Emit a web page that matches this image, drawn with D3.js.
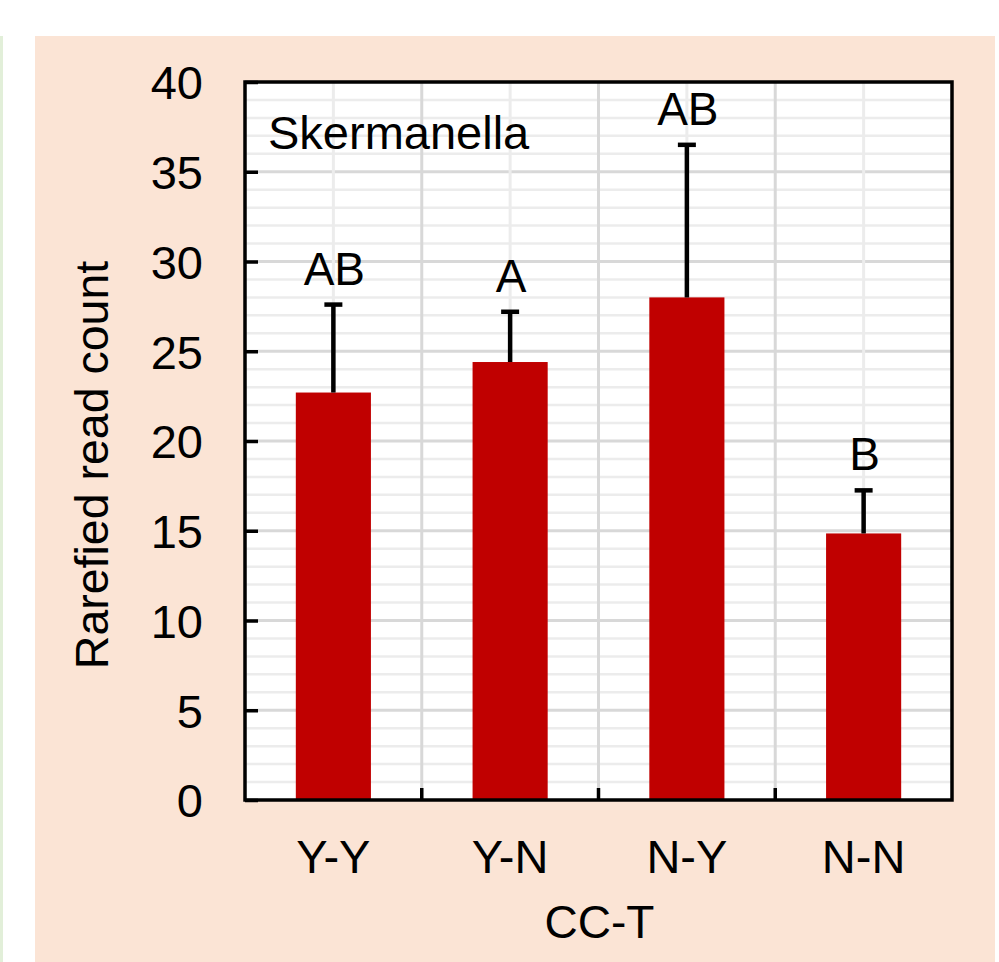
<!DOCTYPE html>
<html>
<head>
<meta charset="utf-8">
<script src="https://cdn.jsdelivr.net/npm/d3@7"></script>
<style>
  html, body { margin: 0; padding: 0; background: #ffffff; }
  svg { display: block; }
  text { font-family: "Liberation Sans", Arial, sans-serif; fill: #000; }
</style>
</head>
<body>
<svg id="chart" width="999" height="962"></svg>
<script>
// Skermanella rarefied read counts by CC-T treatment
const categories = ["Y-Y", "Y-N", "N-Y", "N-N"];
const means      = [22.7, 24.4, 28.0, 14.85];
const errorTops  = [27.6, 27.2, 36.5, 17.25];
const groupLetters = ["AB", "A", "AB", "B"];
const yTicks = [0, 5, 10, 15, 20, 25, 30, 35, 40];

const svg = d3.select("#chart");

// side strip and peach panel
svg.append("rect").attr("x", 0).attr("y", 36).attr("width", 3).attr("height", 926).attr("fill", "#e2efd9");
svg.append("rect").attr("x", 35).attr("y", 36).attr("width", 960).attr("height", 926).attr("fill", "#fbe4d5");

const plot = { left: 245, right: 952, top: 82, bottom: 800 };

const x = d3.scaleBand().domain(categories).range([plot.left, plot.right]).paddingInner(0).paddingOuter(0);
const y = d3.scaleLinear().domain([0, 40]).range([plot.bottom, plot.top]);
const barW = x.bandwidth() * 0.425;

// plot background
svg.append("rect")
  .attr("x", plot.left).attr("y", plot.top)
  .attr("width", plot.right - plot.left).attr("height", plot.bottom - plot.top)
  .attr("fill", "#ffffff");

const grid = svg.append("g");
// minor horizontal grid
grid.selectAll("line.minor-h")
  .data(d3.range(1, 40).filter(v => v % 5 !== 0))
  .join("line")
  .attr("x1", plot.left).attr("x2", plot.right)
  .attr("y1", d => y(d)).attr("y2", d => y(d))
  .attr("stroke", "#ececec").attr("stroke-width", 2.5);
// major horizontal grid
grid.selectAll("line.major-h")
  .data(yTicks.slice(1, -1))
  .join("line")
  .attr("x1", plot.left).attr("x2", plot.right)
  .attr("y1", d => y(d)).attr("y2", d => y(d))
  .attr("stroke", "#d8d8d8").attr("stroke-width", 3);
// minor vertical grid at category centres
grid.selectAll("line.minor-v")
  .data(categories)
  .join("line")
  .attr("x1", d => x(d) + x.bandwidth() / 2).attr("x2", d => x(d) + x.bandwidth() / 2)
  .attr("y1", plot.top).attr("y2", plot.bottom)
  .attr("stroke", "#ececec").attr("stroke-width", 3);
// major vertical grid at category boundaries
grid.selectAll("line.major-v")
  .data(categories.slice(1))
  .join("line")
  .attr("x1", d => x(d)).attr("x2", d => x(d))
  .attr("y1", plot.top).attr("y2", plot.bottom)
  .attr("stroke", "#d8d8d8").attr("stroke-width", 3);

// bars
svg.append("g").selectAll("rect")
  .data(categories)
  .join("rect")
  .attr("x", d => x(d) + (x.bandwidth() - barW) / 2)
  .attr("width", barW)
  .attr("y", (d, i) => y(means[i]))
  .attr("height", (d, i) => y(0) - y(means[i]))
  .attr("fill", "#c00000");

// upward error bars
const err = svg.append("g").attr("stroke", "#000");
categories.forEach((c, i) => {
  const cx = x(c) + x.bandwidth() / 2;
  err.append("line")
    .attr("x1", cx).attr("x2", cx)
    .attr("y1", y(means[i])).attr("y2", y(errorTops[i]))
    .attr("stroke-width", 4.5);
  err.append("line")
    .attr("x1", cx - 9).attr("x2", cx + 9)
    .attr("y1", y(errorTops[i])).attr("y2", y(errorTops[i]))
    .attr("stroke-width", 4.5);
});

// significance letters
svg.append("g").selectAll("text")
  .data(categories)
  .join("text")
  .attr("x", d => x(d) + x.bandwidth() / 2 + 1)
  .attr("y", (d, i) => y(errorTops[i]) - 20)
  .attr("text-anchor", "middle")
  .attr("font-size", 46)
  .text((d, i) => groupLetters[i]);

// axes (ticks point inward)
const yAxis = d3.axisLeft(y).tickValues(yTicks).tickSize(-13).tickPadding(0).tickFormat(d3.format("d"));
const yg = svg.append("g").attr("transform", `translate(${plot.left},0)`).call(yAxis);
yg.select(".domain").remove();
yg.selectAll(".tick line").attr("stroke", "#000").attr("stroke-width", 3.5);
yg.selectAll(".tick text")
  .attr("x", -42).attr("dy", "0.36em")
  .attr("font-size", 47)
  .attr("font-family", "Liberation Sans, Arial, sans-serif")
  .attr("fill", "#000");

const xAxis = d3.axisBottom(x).tickSize(0).tickPadding(0);
const xg = svg.append("g").attr("transform", `translate(0,${plot.bottom})`).call(xAxis);
xg.select(".domain").remove();
xg.selectAll(".tick line").remove();
xg.selectAll(".tick text")
  .attr("y", 73).attr("dy", 0)
  .attr("font-size", 47)
  .attr("font-family", "Liberation Sans, Arial, sans-serif")
  .attr("fill", "#000");

// x ticks at category boundaries
svg.append("g").selectAll("line")
  .data(categories.slice(1))
  .join("line")
  .attr("x1", d => x(d)).attr("x2", d => x(d))
  .attr("y1", plot.bottom).attr("y2", plot.bottom - 12)
  .attr("stroke", "#000").attr("stroke-width", 3.5);

// plot frame
svg.append("rect")
  .attr("x", plot.left).attr("y", plot.top)
  .attr("width", plot.right - plot.left).attr("height", plot.bottom - plot.top)
  .attr("fill", "none").attr("stroke", "#000").attr("stroke-width", 3.5);

// panel label
svg.append("text")
  .attr("x", 268).attr("y", 149)
  .attr("font-size", 47)
  .text("Skermanella");

// axis titles
svg.append("text")
  .attr("transform", `translate(108,${(plot.top + plot.bottom) / 2 + 24}) rotate(-90)`)
  .attr("text-anchor", "middle")
  .attr("font-size", 46.5)
  .text("Rarefied read count");

svg.append("text")
  .attr("x", (plot.left + plot.right) / 2 + 1).attr("y", 938)
  .attr("text-anchor", "middle")
  .attr("font-size", 46)
  .text("CC-T");
</script>
</body>
</html>
